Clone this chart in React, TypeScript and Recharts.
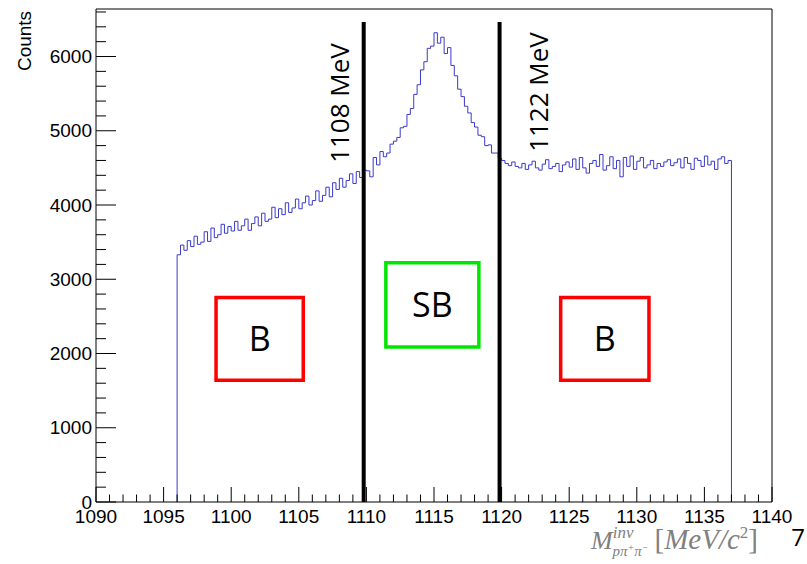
import React from 'react';
import { ComposedChart, Line, XAxis, YAxis, ReferenceLine, ReferenceArea } from 'recharts';

// histogram binning (MeV)
const BIN_START = 1096;
const BIN_WIDTH = 0.25;

// counts per bin
const LOW_SIDEBAND = [
  3330, 3460, 3390, 3520, 3440, 3580, 3470, 3500, 3640, 3510,
  3690, 3560, 3600, 3740, 3620, 3710, 3650, 3780, 3660, 3720,
  3810, 3660, 3750, 3840, 3720, 3890, 3780, 3810, 3970, 3830,
  3950, 3870, 4030, 3900, 3960, 4080, 3950, 4030, 4120, 4000,
  4060, 4190, 4050, 4130, 4240, 4110, 4300, 4210, 4360, 4240,
  4330, 4420, 4290, 4450, 4370, 4470,
];
const SIGNAL_REGION = [
  4460, 4380, 4640, 4540, 4720, 4650, 4700, 4820, 4860, 4910,
  5040, 5060, 5220, 5300, 5490, 5620, 5820, 5930, 6110, 6140,
  6320, 6180, 6260, 6040, 6120, 5880, 5740, 5560, 5460, 5330,
  5240, 5110, 5050, 4940, 4920, 4800, 4810, 4700, 4700, 4630,
];
const HIGH_SIDEBAND = [
  4600, 4560, 4530, 4580, 4520, 4500, 4560, 4480, 4540, 4590,
  4500, 4470, 4550, 4610, 4490, 4520, 4560, 4450, 4540, 4580,
  4510, 4620, 4480, 4640, 4500, 4430, 4560, 4600, 4520, 4680,
  4470, 4530, 4650, 4490, 4600, 4380, 4640, 4520, 4660, 4480,
  4590, 4640, 4500, 4540, 4600, 4490, 4560, 4520, 4580, 4610,
  4530, 4570, 4620, 4500, 4640, 4560, 4480, 4630, 4600, 4520,
  4660, 4540, 4590, 4480, 4620, 4650, 4560, 4600,
];

// cut lines and region boxes
const CUT_LINES = [
  { m: 1109.8, note: '1108 MeV', dx: -25, dy: 81 },
  { m: 1119.85, note: '1122 MeV', dx: 38, dy: 70 },
];
const REGIONS = [
  { name: 'B', x1: 1098.88, x2: 1105.33, y1: 1640, y2: 2755, color: '#ff0000' },
  { name: 'SB', x1: 1111.44, x2: 1118.32, y1: 2089, y2: 3221, color: '#00e600' },
  { name: 'B', x1: 1124.37, x2: 1130.9, y1: 1640, y2: 2755, color: '#ff0000' },
];

const X_MIN = 1090;
const X_MAX = 1140;
const Y_MAX = 6640;
const X_TICKS = Array.from({ length: X_MAX - X_MIN + 1 }, (_, i) => X_MIN + i);
const Y_TICKS = Array.from({ length: 34 }, (_, i) => i * 200);

const AXIS_FONT = '"Liberation Sans", Arial, sans-serif';
const NOTE_FONT = '"Open Sans", "Noto Sans", sans-serif';
const MATH_FONT = '"Liberation Serif", "DejaVu Serif", serif';

const counts = [...LOW_SIDEBAND, ...SIGNAL_REGION, ...HIGH_SIDEBAND];
const histEnd = BIN_START + counts.length * BIN_WIDTH;
const histData = [
  { m: BIN_START, counts: 0 },
  ...counts.map((c, i) => ({ m: BIN_START + i * BIN_WIDTH, counts: c })),
  { m: histEnd, counts: counts[counts.length - 1] },
  { m: histEnd, counts: 0 },
];

function XTick({ x, y, payload }: any) {
  const v = payload.value;
  const major = v % 5 === 0;
  return (
    <g>
      <line x1={x} x2={x} y1={y} y2={y - (major ? 15 : 7.5)} stroke="#000" />
      {major && (
        <text x={x} y={y + 14} textAnchor="middle" dominantBaseline="central" fontSize={19} fontFamily={AXIS_FONT} fill="#000">
          {v}
        </text>
      )}
    </g>
  );
}

function YTick({ x, y, payload }: any) {
  const v = payload.value;
  const major = v % 1000 === 0;
  return (
    <g>
      <line x1={x} x2={x + (major ? 20 : 10)} y1={y} y2={y} stroke="#000" />
      {major && (
        <text x={x - 4} y={y} textAnchor="end" dominantBaseline="central" fontSize={19} fontFamily={AXIS_FONT} fill="#000">
          {v}
        </text>
      )}
    </g>
  );
}

function CountsTitle({ viewBox }: any) {
  const x = viewBox.x - 12;
  const y = viewBox.y + 32;
  return (
    <text x={x} y={y} transform={`rotate(-90 ${x} ${y})`} textAnchor="middle" dominantBaseline="central" fontSize={19} fontFamily={AXIS_FONT} fill="#000">
      Counts
    </text>
  );
}

function MassTitle({ viewBox }: any) {
  const x = viewBox.x + 495;
  const y = viewBox.y + 47;
  return (
    <g>
      <text x={x} y={y} fill="#808080" fontFamily={MATH_FONT} fontStyle="italic" fontSize={26}>
        M
        <tspan fontSize={17} dy={-11}>inv</tspan>
        <tspan fontSize={15} dx={-21} dy={18}>pπ</tspan>
        <tspan fontSize={10} dy={-5}>+</tspan>
        <tspan fontSize={15} dy={5}>π</tspan>
        <tspan fontSize={10} dy={-5}>−</tspan>
        <tspan fontSize={29} dx={6} dy={-2} fontStyle="normal">[</tspan>
        <tspan fontSize={29}>MeV/c</tspan>
        <tspan fontSize={17} dy={-11} fontStyle="normal">2</tspan>
        <tspan fontSize={29} dy={11} fontStyle="normal">]</tspan>
      </text>
      <text x={798} y={546} textAnchor="middle" fontSize={24} fontFamily={NOTE_FONT} fill="#000">
        7
      </text>
    </g>
  );
}

function CutNote({ viewBox, text, dx, dy }: any) {
  const x = viewBox.x + dx;
  const y = viewBox.y + dy;
  return (
    <text x={x} y={y} transform={`rotate(-90 ${x} ${y})`} textAnchor="middle" dominantBaseline="central" fontSize={26} fontFamily={NOTE_FONT} fill="#000">
      {text}
    </text>
  );
}

export default function App() {
  return (
    <div style={{ position: 'absolute', left: 0, top: 0, width: 807, height: 564, background: '#fff' }}>
      <ComposedChart width={807} height={564} data={histData} margin={{ top: 9, right: 35, bottom: 22, left: 36 }}>
        <XAxis
          dataKey="m"
          type="number"
          domain={[X_MIN, X_MAX]}
          ticks={X_TICKS}
          interval={0}
          height={40}
          tickSize={0}
          tickMargin={0}
          tickLine={false}
          axisLine={{ stroke: '#000' }}
          tick={<XTick />}
          label={{ content: (p: any) => <MassTitle {...p} /> }}
        />
        <YAxis
          type="number"
          domain={[0, Y_MAX]}
          ticks={Y_TICKS}
          interval={0}
          width={60}
          tickSize={0}
          tickMargin={0}
          tickLine={false}
          axisLine={{ stroke: '#000' }}
          tick={<YTick />}
          label={{ content: (p: any) => <CountsTitle {...p} /> }}
        />
        <ReferenceLine y={Y_MAX} stroke="#000" strokeWidth={1} />
        <ReferenceLine x={X_MAX} stroke="#000" strokeWidth={1} />
        <Line
          type="stepAfter"
          dataKey="counts"
          stroke="#3a3acc"
          strokeWidth={1}
          dot={false}
          activeDot={false}
          isAnimationActive={false}
        />
        {REGIONS.map((r, i) => (
          <ReferenceArea
            key={i}
            x1={r.x1}
            x2={r.x2}
            y1={r.y1}
            y2={r.y2}
            fill="none"
            fillOpacity={0}
            stroke={r.color}
            strokeWidth={3.5}
            strokeOpacity={1}
            ifOverflow="visible"
            label={{ value: r.name, position: 'center', fontSize: 34, fill: '#000', fontFamily: NOTE_FONT }}
          />
        ))}
        {CUT_LINES.map((c) => (
          <ReferenceLine
            key={c.note}
            segment={[{ x: c.m, y: 0 }, { x: c.m, y: 6465 }]}
            stroke="#000"
            strokeWidth={4}
            ifOverflow="visible"
            label={{ content: (p: any) => <CutNote {...p} text={c.note} dx={c.dx} dy={c.dy} /> }}
          />
        ))}
      </ComposedChart>
    </div>
  );
}
